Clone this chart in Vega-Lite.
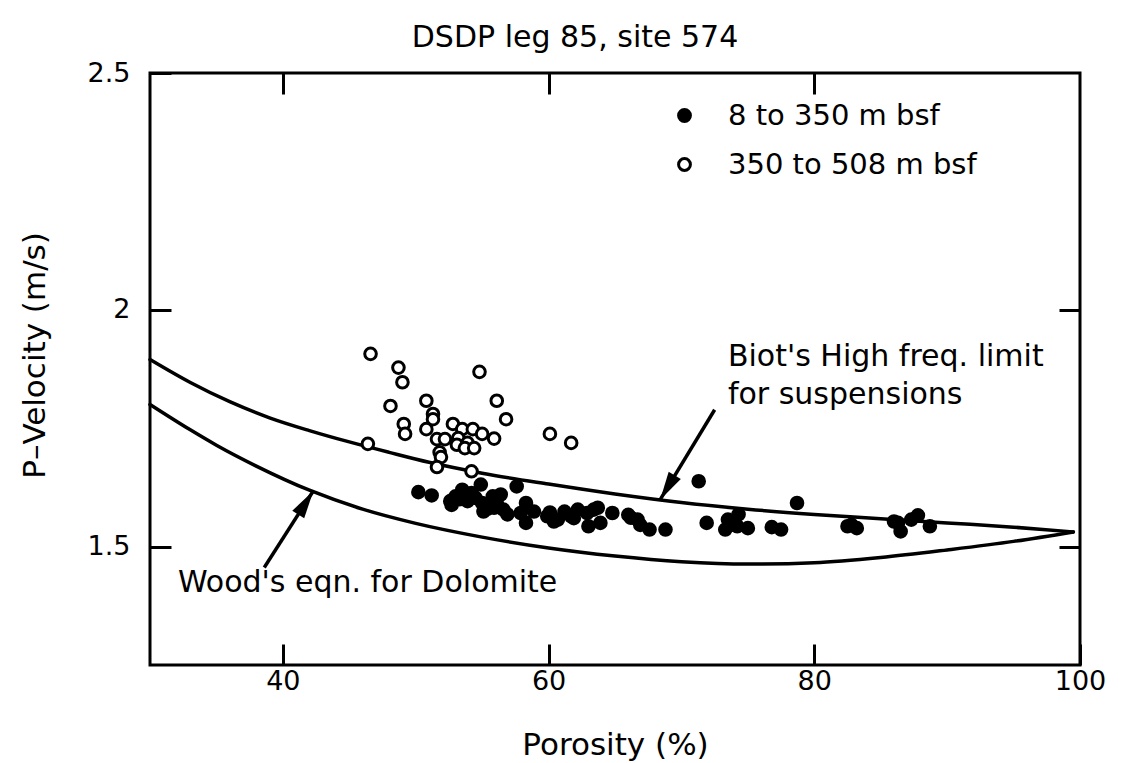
{
  "$schema": "https://vega.github.io/schema/vega-lite/v6.json",
  "width": 930,
  "height": 592,
  "autosize": {"type": "none"},
  "padding": {"left": 150, "top": 73, "right": 46, "bottom": 98},
  "background": "white",
  "title": {
    "text": "DSDP leg 85, site 574",
    "font": "DejaVu Sans",
    "fontSize": 30,
    "fontWeight": "normal",
    "color": "black",
    "anchor": "middle",
    "dx": -40,
    "offset": 6
  },
  "config": {
    "font": "DejaVu Sans",
    "view": {"stroke": "black", "strokeWidth": 3},
    "axis": {
      "domain": false,
      "grid": false,
      "tickColor": "black",
      "tickWidth": 3,
      "tickSize": 21,
      "labelFont": "DejaVu Sans",
      "labelFontSize": 27,
      "labelColor": "black",
      "titleFont": "DejaVu Sans",
      "titleFontSize": 31,
      "titleFontWeight": "normal",
      "titleColor": "black"
    },
    "legend": {
      "labelFont": "DejaVu Sans",
      "labelFontSize": 29,
      "labelColor": "black",
      "labelLimit": 0
    }
  },
  "datasets": {
    "samples": [
      {"depth": "8 to 350 m bsf", "porosity": 50.2, "velocity": 1.615},
      {"depth": "8 to 350 m bsf", "porosity": 51.2, "velocity": 1.608},
      {"depth": "8 to 350 m bsf", "porosity": 52.6, "velocity": 1.596},
      {"depth": "8 to 350 m bsf", "porosity": 52.7, "velocity": 1.588},
      {"depth": "8 to 350 m bsf", "porosity": 53.0, "velocity": 1.606},
      {"depth": "8 to 350 m bsf", "porosity": 53.5, "velocity": 1.620},
      {"depth": "8 to 350 m bsf", "porosity": 53.3, "velocity": 1.600},
      {"depth": "8 to 350 m bsf", "porosity": 53.9, "velocity": 1.596},
      {"depth": "8 to 350 m bsf", "porosity": 54.2, "velocity": 1.613},
      {"depth": "8 to 350 m bsf", "porosity": 54.5, "velocity": 1.603},
      {"depth": "8 to 350 m bsf", "porosity": 54.9, "velocity": 1.631},
      {"depth": "8 to 350 m bsf", "porosity": 55.0, "velocity": 1.592},
      {"depth": "8 to 350 m bsf", "porosity": 55.1, "velocity": 1.574},
      {"depth": "8 to 350 m bsf", "porosity": 55.4, "velocity": 1.580},
      {"depth": "8 to 350 m bsf", "porosity": 55.8, "velocity": 1.606},
      {"depth": "8 to 350 m bsf", "porosity": 55.9, "velocity": 1.582},
      {"depth": "8 to 350 m bsf", "porosity": 56.1, "velocity": 1.592},
      {"depth": "8 to 350 m bsf", "porosity": 56.4, "velocity": 1.610},
      {"depth": "8 to 350 m bsf", "porosity": 56.6, "velocity": 1.578},
      {"depth": "8 to 350 m bsf", "porosity": 56.9, "velocity": 1.568},
      {"depth": "8 to 350 m bsf", "porosity": 57.6, "velocity": 1.627},
      {"depth": "8 to 350 m bsf", "porosity": 57.9, "velocity": 1.571},
      {"depth": "8 to 350 m bsf", "porosity": 58.3, "velocity": 1.592},
      {"depth": "8 to 350 m bsf", "porosity": 58.3, "velocity": 1.550},
      {"depth": "8 to 350 m bsf", "porosity": 58.9, "velocity": 1.574},
      {"depth": "8 to 350 m bsf", "porosity": 59.9, "velocity": 1.564},
      {"depth": "8 to 350 m bsf", "porosity": 60.1, "velocity": 1.572},
      {"depth": "8 to 350 m bsf", "porosity": 60.4, "velocity": 1.553},
      {"depth": "8 to 350 m bsf", "porosity": 60.7, "velocity": 1.557},
      {"depth": "8 to 350 m bsf", "porosity": 61.2, "velocity": 1.574},
      {"depth": "8 to 350 m bsf", "porosity": 61.7, "velocity": 1.564},
      {"depth": "8 to 350 m bsf", "porosity": 61.9, "velocity": 1.560},
      {"depth": "8 to 350 m bsf", "porosity": 62.2, "velocity": 1.578},
      {"depth": "8 to 350 m bsf", "porosity": 62.9, "velocity": 1.571},
      {"depth": "8 to 350 m bsf", "porosity": 63.0, "velocity": 1.543},
      {"depth": "8 to 350 m bsf", "porosity": 63.4, "velocity": 1.578},
      {"depth": "8 to 350 m bsf", "porosity": 63.7, "velocity": 1.582},
      {"depth": "8 to 350 m bsf", "porosity": 63.9, "velocity": 1.550},
      {"depth": "8 to 350 m bsf", "porosity": 64.8, "velocity": 1.571},
      {"depth": "8 to 350 m bsf", "porosity": 66.0, "velocity": 1.567},
      {"depth": "8 to 350 m bsf", "porosity": 66.2, "velocity": 1.561},
      {"depth": "8 to 350 m bsf", "porosity": 66.7, "velocity": 1.557},
      {"depth": "8 to 350 m bsf", "porosity": 66.9, "velocity": 1.546},
      {"depth": "8 to 350 m bsf", "porosity": 67.6, "velocity": 1.536},
      {"depth": "8 to 350 m bsf", "porosity": 68.8, "velocity": 1.536},
      {"depth": "8 to 350 m bsf", "porosity": 71.3, "velocity": 1.638},
      {"depth": "8 to 350 m bsf", "porosity": 71.9, "velocity": 1.550},
      {"depth": "8 to 350 m bsf", "porosity": 73.3, "velocity": 1.536},
      {"depth": "8 to 350 m bsf", "porosity": 73.5, "velocity": 1.557},
      {"depth": "8 to 350 m bsf", "porosity": 73.6, "velocity": 1.545},
      {"depth": "8 to 350 m bsf", "porosity": 74.2, "velocity": 1.543},
      {"depth": "8 to 350 m bsf", "porosity": 74.3, "velocity": 1.568},
      {"depth": "8 to 350 m bsf", "porosity": 75.0, "velocity": 1.539},
      {"depth": "8 to 350 m bsf", "porosity": 76.8, "velocity": 1.541},
      {"depth": "8 to 350 m bsf", "porosity": 77.5, "velocity": 1.536},
      {"depth": "8 to 350 m bsf", "porosity": 78.7, "velocity": 1.592},
      {"depth": "8 to 350 m bsf", "porosity": 82.5, "velocity": 1.543},
      {"depth": "8 to 350 m bsf", "porosity": 82.8, "velocity": 1.546},
      {"depth": "8 to 350 m bsf", "porosity": 83.2, "velocity": 1.539},
      {"depth": "8 to 350 m bsf", "porosity": 86.0, "velocity": 1.553},
      {"depth": "8 to 350 m bsf", "porosity": 86.3, "velocity": 1.550},
      {"depth": "8 to 350 m bsf", "porosity": 86.5, "velocity": 1.532},
      {"depth": "8 to 350 m bsf", "porosity": 87.3, "velocity": 1.557},
      {"depth": "8 to 350 m bsf", "porosity": 87.8, "velocity": 1.566},
      {"depth": "8 to 350 m bsf", "porosity": 88.7, "velocity": 1.543},
      {"depth": "350 to 508 m bsf", "porosity": 46.6, "velocity": 1.907},
      {"depth": "350 to 508 m bsf", "porosity": 48.7, "velocity": 1.878},
      {"depth": "350 to 508 m bsf", "porosity": 49.0, "velocity": 1.847},
      {"depth": "350 to 508 m bsf", "porosity": 54.8, "velocity": 1.869},
      {"depth": "350 to 508 m bsf", "porosity": 48.1, "velocity": 1.797},
      {"depth": "350 to 508 m bsf", "porosity": 50.8, "velocity": 1.808},
      {"depth": "350 to 508 m bsf", "porosity": 56.1, "velocity": 1.808},
      {"depth": "350 to 508 m bsf", "porosity": 51.3, "velocity": 1.780},
      {"depth": "350 to 508 m bsf", "porosity": 51.3, "velocity": 1.769},
      {"depth": "350 to 508 m bsf", "porosity": 56.8, "velocity": 1.769},
      {"depth": "350 to 508 m bsf", "porosity": 49.1, "velocity": 1.759},
      {"depth": "350 to 508 m bsf", "porosity": 49.2, "velocity": 1.738},
      {"depth": "350 to 508 m bsf", "porosity": 50.8, "velocity": 1.748},
      {"depth": "350 to 508 m bsf", "porosity": 52.8, "velocity": 1.759},
      {"depth": "350 to 508 m bsf", "porosity": 53.5, "velocity": 1.748},
      {"depth": "350 to 508 m bsf", "porosity": 54.3, "velocity": 1.748},
      {"depth": "350 to 508 m bsf", "porosity": 55.0, "velocity": 1.738},
      {"depth": "350 to 508 m bsf", "porosity": 55.9, "velocity": 1.728},
      {"depth": "350 to 508 m bsf", "porosity": 51.6, "velocity": 1.727},
      {"depth": "350 to 508 m bsf", "porosity": 52.2, "velocity": 1.727},
      {"depth": "350 to 508 m bsf", "porosity": 53.2, "velocity": 1.729},
      {"depth": "350 to 508 m bsf", "porosity": 53.1, "velocity": 1.715},
      {"depth": "350 to 508 m bsf", "porosity": 53.9, "velocity": 1.719},
      {"depth": "350 to 508 m bsf", "porosity": 53.7, "velocity": 1.708},
      {"depth": "350 to 508 m bsf", "porosity": 54.4, "velocity": 1.708},
      {"depth": "350 to 508 m bsf", "porosity": 51.8, "velocity": 1.699},
      {"depth": "350 to 508 m bsf", "porosity": 51.9, "velocity": 1.689},
      {"depth": "350 to 508 m bsf", "porosity": 51.6, "velocity": 1.668},
      {"depth": "350 to 508 m bsf", "porosity": 54.2, "velocity": 1.659},
      {"depth": "350 to 508 m bsf", "porosity": 60.1, "velocity": 1.738},
      {"depth": "350 to 508 m bsf", "porosity": 61.7, "velocity": 1.719},
      {"depth": "350 to 508 m bsf", "porosity": 46.4, "velocity": 1.717}
    ],
    "curves": [
      {"curve": "Biot high-frequency limit", "porosity": 30, "velocity": 1.895},
      {"curve": "Biot high-frequency limit", "porosity": 33, "velocity": 1.847},
      {"curve": "Biot high-frequency limit", "porosity": 36, "velocity": 1.806},
      {"curve": "Biot high-frequency limit", "porosity": 39, "velocity": 1.772},
      {"curve": "Biot high-frequency limit", "porosity": 42, "velocity": 1.745},
      {"curve": "Biot high-frequency limit", "porosity": 45, "velocity": 1.721},
      {"curve": "Biot high-frequency limit", "porosity": 48, "velocity": 1.699},
      {"curve": "Biot high-frequency limit", "porosity": 51, "velocity": 1.678},
      {"curve": "Biot high-frequency limit", "porosity": 55, "velocity": 1.655},
      {"curve": "Biot high-frequency limit", "porosity": 60, "velocity": 1.632},
      {"curve": "Biot high-frequency limit", "porosity": 65, "velocity": 1.611},
      {"curve": "Biot high-frequency limit", "porosity": 70, "velocity": 1.593},
      {"curve": "Biot high-frequency limit", "porosity": 75, "velocity": 1.579},
      {"curve": "Biot high-frequency limit", "porosity": 80, "velocity": 1.568},
      {"curve": "Biot high-frequency limit", "porosity": 85, "velocity": 1.559},
      {"curve": "Biot high-frequency limit", "porosity": 90, "velocity": 1.550},
      {"curve": "Biot high-frequency limit", "porosity": 95, "velocity": 1.541},
      {"curve": "Biot high-frequency limit", "porosity": 99.5, "velocity": 1.531},
      {"curve": "Wood's equation, dolomite", "porosity": 30, "velocity": 1.800},
      {"curve": "Wood's equation, dolomite", "porosity": 33, "velocity": 1.747},
      {"curve": "Wood's equation, dolomite", "porosity": 35, "velocity": 1.714},
      {"curve": "Wood's equation, dolomite", "porosity": 38, "velocity": 1.670},
      {"curve": "Wood's equation, dolomite", "porosity": 42, "velocity": 1.619},
      {"curve": "Wood's equation, dolomite", "porosity": 46, "velocity": 1.579},
      {"curve": "Wood's equation, dolomite", "porosity": 50, "velocity": 1.549},
      {"curve": "Wood's equation, dolomite", "porosity": 55, "velocity": 1.520},
      {"curve": "Wood's equation, dolomite", "porosity": 60, "velocity": 1.497},
      {"curve": "Wood's equation, dolomite", "porosity": 65, "velocity": 1.480},
      {"curve": "Wood's equation, dolomite", "porosity": 70, "velocity": 1.468},
      {"curve": "Wood's equation, dolomite", "porosity": 75, "velocity": 1.463},
      {"curve": "Wood's equation, dolomite", "porosity": 80, "velocity": 1.466},
      {"curve": "Wood's equation, dolomite", "porosity": 85, "velocity": 1.477},
      {"curve": "Wood's equation, dolomite", "porosity": 90, "velocity": 1.493},
      {"curve": "Wood's equation, dolomite", "porosity": 95, "velocity": 1.511},
      {"curve": "Wood's equation, dolomite", "porosity": 99.5, "velocity": 1.531}
    ],
    "arrows": [
      {"arrow": "biot", "porosity": 72.5, "velocity": 1.789, "porosity_tip": 68.4, "velocity_tip": 1.599},
      {"arrow": "wood", "porosity": 38.6, "velocity": 1.456, "porosity_tip": 42.3, "velocity_tip": 1.618}
    ],
    "notes": [
      {"note": "Biot's High freq. limit", "porosity": 73.5, "velocity": 1.901},
      {"note": "for suspensions", "porosity": 73.5, "velocity": 1.821},
      {"note": "Wood's eqn. for Dolomite", "porosity": 32.1, "velocity": 1.424}
    ]
  },
  "layer": [
    {
      "data": {"name": "curves"},
      "mark": {"type": "line", "color": "black", "strokeWidth": 3.5, "interpolate": "monotone", "strokeCap": "round"},
      "encoding": {
        "x": {
          "field": "porosity", "type": "quantitative",
          "scale": {"domain": [30, 100], "nice": false, "zero": false},
          "axis": null
        },
        "y": {
          "field": "velocity", "type": "quantitative",
          "scale": {"domain": [1.25, 2.5], "nice": false, "zero": false},
          "axis": null
        },
        "detail": {"field": "curve"}
      }
    },
    {
      "data": {"name": "arrows"},
      "mark": {"type": "rule", "color": "black", "strokeWidth": 3.5},
      "encoding": {
        "x": {"field": "porosity", "type": "quantitative", "axis": null},
        "y": {"field": "velocity", "type": "quantitative", "axis": null},
        "x2": {"field": "porosity_tip"},
        "y2": {"field": "velocity_tip"}
      }
    },
    {
      "data": {"name": "arrows"},
      "transform": [{"filter": "datum.arrow === 'biot'"}],
      "mark": {"type": "point", "shape": "M0,0L0.5,2L-0.5,2Z", "filled": true, "color": "black", "opacity": 1, "size": 800, "angle": 211},
      "encoding": {
        "x": {"field": "porosity_tip", "type": "quantitative", "axis": null},
        "y": {"field": "velocity_tip", "type": "quantitative", "axis": null}
      }
    },
    {
      "data": {"name": "arrows"},
      "transform": [{"filter": "datum.arrow === 'wood'"}],
      "mark": {"type": "point", "shape": "M0,0L0.5,2L-0.5,2Z", "filled": true, "color": "black", "opacity": 1, "size": 800, "angle": 32.5},
      "encoding": {
        "x": {"field": "porosity_tip", "type": "quantitative", "axis": null},
        "y": {"field": "velocity_tip", "type": "quantitative", "axis": null}
      }
    },
    {
      "data": {"name": "notes"},
      "mark": {"type": "text", "align": "left", "baseline": "middle", "font": "DejaVu Sans", "fontSize": 30, "color": "black"},
      "encoding": {
        "x": {
          "field": "porosity", "type": "quantitative",
          "axis": {"orient": "bottom", "offset": -592, "values": [40, 60, 80], "labels": false, "title": null}
        },
        "y": {
          "field": "velocity", "type": "quantitative",
          "axis": {"orient": "left", "offset": -930, "values": [1.5, 2], "labels": false, "title": null}
        },
        "text": {"field": "note"}
      }
    },
    {
      "data": {"name": "samples"},
      "mark": {"type": "point", "shape": "circle", "filled": true, "stroke": "black", "strokeWidth": 3, "size": 135, "opacity": 1},
      "encoding": {
        "x": {
          "field": "porosity", "type": "quantitative",
          "scale": {"domain": [30, 100], "nice": false, "zero": false},
          "axis": {"orient": "bottom", "values": [40, 60, 80, 100], "tickSize": -21, "labelFlush": false, "labelPadding": 24, "title": "Porosity (%)", "titleY": 80, "titleBaseline": "middle"}
        },
        "y": {
          "field": "velocity", "type": "quantitative",
          "scale": {"domain": [1.25, 2.5], "nice": false, "zero": false},
          "axis": {"orient": "left", "values": [1.5, 2, 2.5], "format": "~g", "tickSize": -21, "labelFlush": false, "labelPadding": 41, "title": "P–Velocity (m/s)", "titleX": -115, "titleY": 282, "titleBaseline": "middle", "titleAngle": -90}
        },
        "fill": {
          "field": "depth", "type": "nominal",
          "scale": {"domain": ["8 to 350 m bsf", "350 to 508 m bsf"], "range": ["black", "white"]},
          "legend": {
            "title": null,
            "orient": "none",
            "legendX": 520,
            "legendY": 28,
            "padding": 0,
            "symbolType": "circle",
            "symbolSize": 140,
            "symbolStrokeColor": "black",
            "symbolStrokeWidth": 3,
            "labelOffset": 29,
            "rowPadding": 19
          }
        }
      }
    }
  ],
  "resolve": {"axis": {"x": "independent", "y": "independent"}}
}
